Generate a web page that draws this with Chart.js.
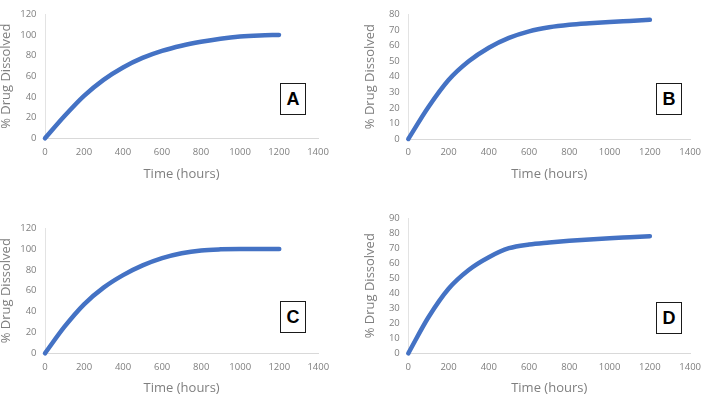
<!DOCTYPE html>
<html lang="en">
<head>
    <meta charset="UTF-8">
    <title>Drug dissolution profiles A-D</title>
    <script src="https://cdn.jsdelivr.net/npm/chart.js"></script>
    <style>
        body {
            margin: 0;
            width: 709px;
            height: 396px;
            position: relative;
            overflow: hidden;
            background: #fff;
        }

        canvas {
            position: absolute;
        }

        .tag {
            position: absolute;
            box-sizing: border-box;
            width: 26px;
            height: 32px;
            border: 1px solid #1a1a1a;
            background: #fff;
            color: #000;
            font: bold 18px "Liberation Sans", Arial, sans-serif;
            line-height: 30px;
            text-align: center;
        }
    </style>
</head>
<body>
    <canvas id="chartA"></canvas>
    <canvas id="chartB"></canvas>
    <canvas id="chartC"></canvas>
    <canvas id="chartD"></canvas>

    <div class="tag" style="left:280px; top:83px;">A</div>
    <div class="tag" style="left:656px; top:83px;">B</div>
    <div class="tag" style="left:280px; top:301px;">C</div>
    <div class="tag" style="left:656px; top:302px;">D</div>

    <script>
        // time points (hours) and % drug dissolved
        const hours = [0, 100, 200, 300, 400, 500, 600, 700, 800, 900, 1000, 1100, 1200];
        const drugA = [0, 21.5, 41, 56.5, 68.5, 77.7, 84.5, 89.5, 93.3, 96.3, 98.4, 99.5, 100];
        const drugB = [0, 20.5, 37.8, 49.8, 58.5, 64.8, 69, 71.6, 73.2, 74.2, 75, 75.7, 76.4];
        const drugC = [0, 25.5, 47, 63, 75, 84.3, 91.3, 96, 98.7, 99.7, 100, 100, 100];
        const drugD = [0, 24, 43, 55.5, 64, 70, 72.5, 73.8, 74.9, 75.8, 76.6, 77.3, 78];

        const xTicks = { min: 0, max: 1400, step: 200 };
        const yMaxes = [120, 80, 120, 90];
        const ySteps = [20, 10, 20, 10];

        // canvas box and plot area, page pixels
        const panels = [
            { id: 'chartA', values: drugA, box: { left: -2, top: 0, w: 356, h: 182 }, area: { l: 45, r: 318, t: 4.4, b: 138.3 } },
            { id: 'chartB', values: drugB, box: { left: 362, top: 0, w: 347, h: 182 }, area: { l: 408.3, r: 696.7, t: 5, b: 139 } },
            { id: 'chartC', values: drugC, box: { left: -2, top: 214, w: 356, h: 182 }, area: { l: 45, r: 318.3, t: 219, b: 353.3 } },
            { id: 'chartD', values: drugD, box: { left: 362, top: 204, w: 347, h: 192 }, area: { l: 408.3, r: 696.7, t: 209, b: 353.3 } }
        ];

        const grey = '#7f7f7f';
        const tickFont = { family: '"Open Sans", sans-serif', size: 9.5 };
        const titleFont = { family: '"Open Sans", sans-serif', size: 13 };
        const plain = v => String(v);

        panels.forEach((p, i) => {
            const cv = document.getElementById(p.id);
            cv.width = p.box.w;
            cv.height = p.box.h;
            cv.style.left = p.box.left + 'px';
            cv.style.top = p.box.top + 'px';

            const yWidth = p.area.l - p.box.left;
            const xHeight = p.box.top + p.box.h - p.area.b;

            new Chart(cv, {
                type: 'line',
                data: {
                    datasets: [{
                        data: hours.map((h, k) => ({ x: h, y: p.values[k] })),
                        borderColor: '#4472C4',
                        borderWidth: 4.5,
                        borderCapStyle: 'round',
                        borderJoinStyle: 'round',
                        pointRadius: 0,
                        fill: false,
                        cubicInterpolationMode: 'monotone',
                        clip: false
                    }]
                },
                options: {
                    responsive: false,
                    animation: false,
                    layout: {
                        autoPadding: false,
                        padding: {
                            left: 0,
                            top: p.area.t - p.box.top,
                            right: p.box.left + p.box.w - p.area.r,
                            bottom: 0
                        }
                    },
                    plugins: {
                        legend: { display: false },
                        tooltip: { enabled: false }
                    },
                    scales: {
                        x: {
                            type: 'linear',
                            min: xTicks.min,
                            max: xTicks.max,
                            ticks: { stepSize: xTicks.step, padding: 8, color: grey, font: tickFont, maxRotation: 0, callback: plain },
                            grid: { display: false, drawTicks: false },
                            border: { color: '#d9d9d9', width: 1 },
                            title: { display: true, text: 'Time (hours)', color: grey, font: titleFont, padding: 0 },
                            afterFit: s => { s.height = xHeight; }
                        },
                        y: {
                            min: 0,
                            max: yMaxes[i],
                            ticks: { stepSize: ySteps[i], padding: 8.5, color: grey, font: tickFont, callback: plain },
                            grid: { display: false, drawTicks: false },
                            border: { color: '#e3e3e3', width: 1 },
                            title: { display: true, text: '% Drug Dissolved', color: grey, font: titleFont, padding: 0 },
                            afterFit: s => { s.width = yWidth; }
                        }
                    }
                }
            });
        });
    </script>
</body>
</html>
